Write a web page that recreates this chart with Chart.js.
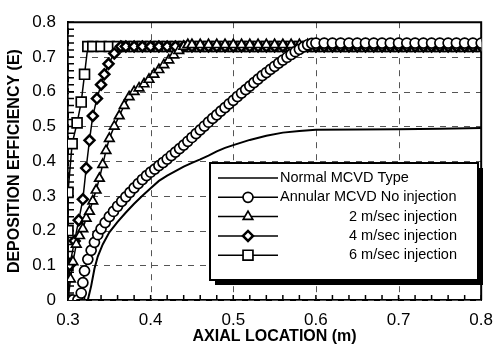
<!DOCTYPE html>
<html>
<head>
<meta charset="utf-8">
<script src="https://cdn.jsdelivr.net/npm/chart.js@4.4.0/dist/chart.umd.min.js"></script>
<style>
  html, body { margin: 0; padding: 0; background: #fff; }
  #wrap { width: 503px; height: 360px; }
</style>
</head>
<body>
<div id="wrap"><canvas id="chart" width="503" height="360"></canvas></div>
<script>
// axial location (m) and deposition efficiency
const normalX = [0.310, 0.324, 0.328, 0.332, 0.336, 0.342, 0.350, 0.360, 0.370, 0.380, 0.390, 0.400,
  0.410, 0.420, 0.430, 0.440, 0.450, 0.460, 0.470, 0.480, 0.490, 0.500, 0.520, 0.540, 0.560, 0.580,
  0.600, 0.650, 0.700, 0.750, 0.800]
const normalY = [0, 0, 0.04, 0.09, 0.125, 0.16, 0.195, 0.225, 0.252, 0.277, 0.300, 0.322,
  0.343, 0.358, 0.371, 0.384, 0.395, 0.405, 0.416, 0.428, 0.438, 0.446, 0.461, 0.473, 0.482, 0.487,
  0.490, 0.491, 0.492, 0.493, 0.495]

const annularX = [0.306, 0.312, 0.316, 0.318, 0.320, 0.324, 0.328, 0.332, 0.336, 0.340, 0.345, 0.350,
  0.355, 0.360, 0.365, 0.370, 0.375, 0.380, 0.385, 0.390, 0.395, 0.400, 0.405, 0.410, 0.415, 0.420,
  0.425, 0.430, 0.435, 0.440, 0.445, 0.450, 0.455, 0.460, 0.465, 0.470, 0.475, 0.480, 0.485, 0.490,
  0.495, 0.500, 0.505, 0.510, 0.515, 0.520, 0.525, 0.530, 0.535, 0.540, 0.545, 0.550, 0.555, 0.560,
  0.565, 0.570, 0.575, 0.580, 0.585, 0.590, 0.595, 0.600, 0.610, 0.620, 0.630, 0.640, 0.650, 0.660,
  0.670, 0.680, 0.690, 0.700, 0.710, 0.720, 0.730, 0.740, 0.750, 0.760, 0.770, 0.780, 0.790, 0.800]
const annularY = [0, 0, 0.02, 0.05, 0.084, 0.117, 0.143, 0.166, 0.188, 0.205, 0.223, 0.240,
  0.255, 0.270, 0.284, 0.297, 0.310, 0.323, 0.335, 0.347, 0.358, 0.368, 0.377, 0.387, 0.396, 0.406,
  0.416, 0.426, 0.436, 0.446, 0.457, 0.468, 0.479, 0.490, 0.501, 0.512, 0.523, 0.533, 0.544, 0.554,
  0.565, 0.575, 0.586, 0.596, 0.606, 0.616, 0.626, 0.636, 0.646, 0.655, 0.664, 0.673, 0.682, 0.691,
  0.699, 0.707, 0.715, 0.722, 0.729, 0.735, 0.739, 0.740, 0.740, 0.740, 0.740, 0.740, 0.740, 0.740,
  0.740, 0.740, 0.740, 0.740, 0.740, 0.740, 0.740, 0.740, 0.740, 0.740, 0.740, 0.740, 0.740, 0.740]

const inj2X = [0.300, 0.303, 0.306, 0.310, 0.314, 0.318, 0.322, 0.326, 0.330, 0.334, 0.338, 0.342,
  0.346, 0.350, 0.356, 0.362, 0.368, 0.374, 0.380, 0.386, 0.392, 0.398, 0.404, 0.410, 0.416, 0.422,
  0.428, 0.434, 0.440, 0.445, 0.450, 0.460, 0.470, 0.480, 0.490, 0.500, 0.510, 0.520, 0.530, 0.540,
  0.550, 0.560, 0.570, 0.580, 0.590, 0.600, 0.610, 0.620, 0.630, 0.640, 0.650, 0.660, 0.670, 0.680,
  0.690, 0.700, 0.710, 0.720, 0.730, 0.740, 0.750, 0.760, 0.770, 0.780, 0.790, 0.800]
const inj2Y = [0, 0.06, 0.11, 0.16, 0.185, 0.205, 0.235, 0.255, 0.285, 0.316, 0.350, 0.390,
  0.430, 0.465, 0.500, 0.530, 0.560, 0.585, 0.600, 0.610, 0.622, 0.635, 0.650, 0.663, 0.677, 0.691,
  0.705, 0.718, 0.730, 0.735, 0.735, 0.735, 0.735, 0.735, 0.735, 0.735, 0.735, 0.735, 0.735, 0.735,
  0.735, 0.735, 0.735, 0.735, 0.735, 0.735, 0.735, 0.735, 0.735, 0.735, 0.735, 0.735, 0.735, 0.735,
  0.735, 0.735, 0.735, 0.735, 0.735, 0.735, 0.735, 0.735, 0.735, 0.735, 0.735, 0.735]

const inj4X = [0.300, 0.302, 0.308, 0.313, 0.318, 0.322, 0.326, 0.330, 0.335, 0.340, 0.344, 0.349,
  0.356, 0.364, 0.370, 0.380, 0.390, 0.400, 0.410, 0.420, 0.430, 0.440, 0.450, 0.460, 0.470, 0.480,
  0.490, 0.500, 0.510, 0.520, 0.530, 0.540, 0.550, 0.560, 0.570, 0.580, 0.590, 0.600, 0.610, 0.620,
  0.630, 0.640, 0.650, 0.660, 0.670, 0.680, 0.690, 0.700, 0.710, 0.720, 0.730, 0.740, 0.750, 0.760,
  0.770, 0.780, 0.790, 0.800]
const inj4Y = [0, 0.10, 0.17, 0.23, 0.29, 0.38, 0.46, 0.53, 0.58, 0.62, 0.65, 0.68,
  0.71, 0.73, 0.73, 0.73, 0.73, 0.73, 0.73, 0.73, 0.73, 0.73, 0.73, 0.73, 0.73, 0.73,
  0.73, 0.73, 0.73, 0.73, 0.73, 0.73, 0.73, 0.73, 0.73, 0.73, 0.73, 0.73, 0.73, 0.73,
  0.73, 0.73, 0.73, 0.73, 0.73, 0.73, 0.73, 0.73, 0.73, 0.73, 0.73, 0.73, 0.73, 0.73,
  0.73, 0.73, 0.73, 0.73]

const inj6X = [0.300, 0.300, 0.300, 0.300, 0.305, 0.311, 0.316, 0.320, 0.324, 0.330, 0.340, 0.350,
  0.360, 0.370, 0.380, 0.390, 0.400, 0.410, 0.420, 0.430, 0.440, 0.450, 0.460, 0.470, 0.480, 0.490,
  0.500, 0.510, 0.520, 0.530, 0.540, 0.550, 0.560, 0.570, 0.580, 0.590, 0.600, 0.610, 0.620, 0.630,
  0.640, 0.650, 0.660, 0.670, 0.680, 0.690, 0.700, 0.710, 0.720, 0.730, 0.740, 0.750, 0.760, 0.770,
  0.780, 0.790, 0.800]
const inj6Y = [0, 0.10, 0.20, 0.31, 0.45, 0.51, 0.57, 0.65, 0.73, 0.73, 0.73, 0.73,
  0.73, 0.73, 0.73, 0.73, 0.73, 0.73, 0.73, 0.73, 0.73, 0.73, 0.73, 0.73, 0.73, 0.73,
  0.73, 0.73, 0.73, 0.73, 0.73, 0.73, 0.73, 0.73, 0.73, 0.73, 0.73, 0.73, 0.73, 0.73,
  0.73, 0.73, 0.73, 0.73, 0.73, 0.73, 0.73, 0.73, 0.73, 0.73, 0.73, 0.73, 0.73, 0.73,
  0.73, 0.73, 0.73]

const labels = ['Normal MCVD Type', 'Annular MCVD No injection', '2 m/sec injection',
  '4 m/sec injection', '6 m/sec injection']

const pts = (xs, ys) => xs.map((x, i) => ({ x, y: ys[i] }))

const FONT = '"Liberation Sans", Arial, sans-serif'

const series = (label, data, style, radius) => ({
  label, data,
  borderColor: '#000', borderWidth: 1.5,
  pointStyle: style, pointRadius: radius, pointHoverRadius: radius,
  pointBorderColor: '#000', pointBackgroundColor: '#fff', pointBorderWidth: 1.7,
})

// dashed grid, frame on top/right and small inward ticks
const frame = {
  id: 'frame',
  beforeDatasetsDraw(chart) {
    const { ctx, chartArea: a, scales: { x, y } } = chart
    ctx.save()
    ctx.strokeStyle = '#555'
    ctx.lineWidth = 1
    ctx.setLineDash([6, 6])
    ctx.beginPath()
    x.ticks.forEach(t => {
      const px = Math.round(x.getPixelForValue(t.value)) + 0.5
      ctx.moveTo(px, a.top); ctx.lineTo(px, a.bottom)
    })
    y.ticks.forEach(t => {
      const py = Math.round(y.getPixelForValue(t.value)) + 0.5
      ctx.moveTo(a.left, py); ctx.lineTo(a.right, py)
    })
    ctx.stroke()
    ctx.setLineDash([])
    ctx.strokeStyle = '#000'
    ctx.lineWidth = 1.5
    ctx.beginPath()
    for (let v = 0.30; v <= 0.801; v += 0.02) {
      const px = x.getPixelForValue(v)
      ctx.moveTo(px, a.bottom); ctx.lineTo(px, a.bottom - 5)
    }
    for (let v = 0; v <= 0.801; v += 0.02) {
      const py = y.getPixelForValue(v)
      ctx.moveTo(a.left, py); ctx.lineTo(a.left + 6, py)
    }
    ctx.stroke()
    ctx.lineWidth = 2
    ctx.beginPath()
    ctx.moveTo(a.left, a.top); ctx.lineTo(a.right, a.top); ctx.lineTo(a.right, a.bottom)
    ctx.stroke()
    ctx.restore()
  }
}

const legendBox = {
  id: 'legendBox',
  afterDraw(chart) {
    const ctx = chart.ctx
    const bx = 210, by = 163, bw = 268, bh = 117
    ctx.save()
    ctx.fillStyle = '#000'
    ctx.fillRect(bx + 5, by + 5, bw, bh)
    ctx.fillStyle = '#fff'
    ctx.fillRect(bx, by, bw, bh)
    ctx.strokeStyle = '#000'
    ctx.lineWidth = 2
    ctx.strokeRect(bx, by, bw, bh)
    ctx.font = '14.5px ' + FONT
    ctx.textBaseline = 'middle'
    chart.data.datasets.forEach((ds, i) => {
      const ry = 178 + i * 19.3
      ctx.strokeStyle = '#000'
      ctx.lineWidth = 1.5
      ctx.beginPath(); ctx.moveTo(218, ry); ctx.lineTo(278, ry); ctx.stroke()
      if (ds.pointRadius > 0) {
        ctx.fillStyle = ds.pointBackgroundColor
        ctx.strokeStyle = ds.pointBorderColor
        ctx.lineWidth = ds.pointBorderWidth
        Chart.helpers.drawPoint(ctx, { pointStyle: ds.pointStyle, radius: ds.pointRadius, rotation: 0, borderWidth: ds.pointBorderWidth }, 248, ry)
      }
      ctx.fillStyle = '#000'
      if (i < 2) { ctx.textAlign = 'left'; ctx.fillText(ds.label, 280, ry) }
      else { ctx.textAlign = 'right'; ctx.fillText(ds.label, 457, ry) }
    })
    ctx.restore()
  }
}

new Chart(document.getElementById('chart'), {
  type: 'line',
  data: {
    datasets: [
      { ...series(labels[0], pts(normalX, normalY), 'circle', 0), borderWidth: 2 },
      series(labels[1], pts(annularX, annularY), 'circle', 5),
      series(labels[2], pts(inj2X, inj2Y), 'triangle', 5.5),
      { ...series(labels[3], pts(inj4X, inj4Y), 'rectRot', 5), pointBorderWidth: 2.5 },
      series(labels[4], pts(inj6X, inj6Y), 'rect', 7),
    ]
  },
  options: {
    responsive: false,
    animation: false,
    layout: { padding: { top: 13, right: 16, left: 0, bottom: 0 } },
    plugins: { legend: { display: false }, tooltip: { enabled: false } },
    scales: {
      x: {
        type: 'linear', min: 0.3, max: 0.8,
        afterFit(s) { s.height = 60 },
        ticks: { stepSize: 0.1, padding: 10, color: '#000', font: { family: FONT, size: 17 },
          callback: v => v.toFixed(1) },
        grid: { display: false, drawTicks: false },
        border: { display: true, color: '#000', width: 2 },
        title: { display: true, text: 'AXIAL LOCATION (m)', color: '#000',
          font: { family: FONT, size: 16, weight: 'bold' }, padding: { top: 0, bottom: 14 } }
      },
      y: {
        min: 0, max: 0.8,
        afterFit(s) { s.width = 68 },
        ticks: { stepSize: 0.1, padding: 12, color: '#000', font: { family: FONT, size: 17 },
          callback: v => v === 0 ? '0' : v.toFixed(1) },
        grid: { display: false, drawTicks: false },
        border: { display: true, color: '#000', width: 2 },
        title: { display: true, text: 'DEPOSITION EFFICIENCY (E)', color: '#000',
          font: { family: FONT, size: 16, weight: 'bold' }, padding: { top: 5, bottom: 0 } }
      }
    }
  },
  plugins: [frame, legendBox]
})
</script>
</body>
</html>
